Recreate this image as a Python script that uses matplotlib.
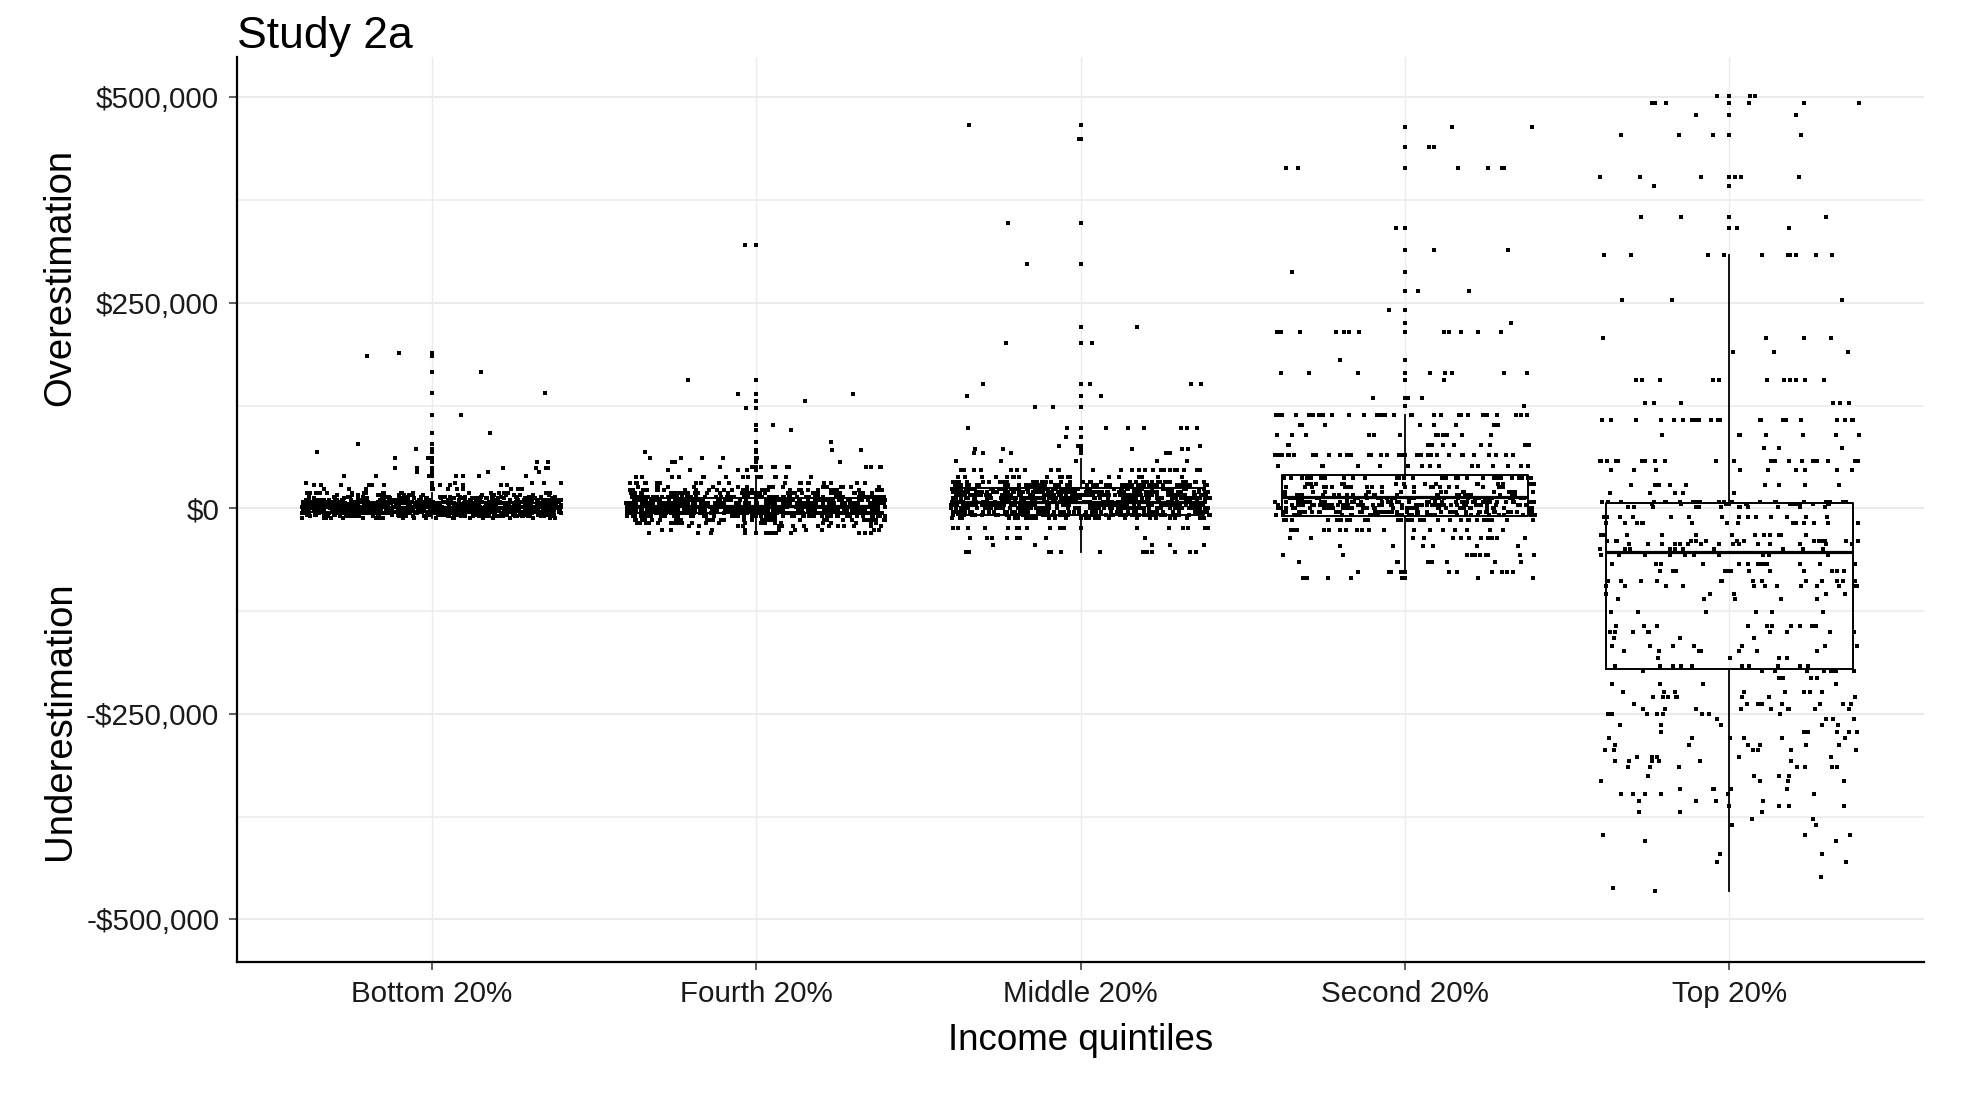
import numpy as np
import matplotlib
matplotlib.use('Agg')
import matplotlib.pyplot as plt
from matplotlib.ticker import FixedLocator, FuncFormatter

plt.rcParams['font.family'] = ['Liberation Sans', 'DejaVu Sans']

groups = ['Bottom 20%', 'Fourth 20%', 'Middle 20%', 'Second 20%', 'Top 20%']

# estimation error in $1,000 and how many answers sit at each level
bottom_vals = [-12, -10, -8, -6, -4, -2, 0, 2, 4, 6, 8, 10, 12, 14, 16,
               19, 23, 28, 31, 39, 44, 49, 56, 61, 69, 72, 78, 91, 113, 140, 166, 185, 189]
bottom_counts = [25, 45, 55, 70, 90, 100, 130, 110, 100, 90, 70, 55, 40, 30, 20,
                 20, 10, 12, 5, 7, 3, 6, 2, 2, 1, 1, 1, 1, 1, 1, 1, 1, 1]

fourth_vals = [-30, -26, -22, -18, -14, -10, -6, -2, 2, 6, 10, 14, 18, 22, 26,
               31, 38, 46, 50, 56, 61, 68, 71, 81, 95, 101, 122, 131, 139, 156, 320]
fourth_counts = [13, 10, 15, 25, 40, 60, 90, 110, 120, 110, 90, 70, 50, 35, 20,
                 20, 15, 4, 11, 3, 5, 1, 2, 1, 1, 1, 1, 1, 2, 1, 1]

middle_vals = [-53, -45, -36, -24, -12, -8, -4, 0, 4, 8, 12, 16, 20, 24, 28, 32,
               38, 46, 57, 67, 72, 76, 87, 98, 123, 137, 151, 201, 221, 297, 347, 449, 466]
middle_counts = [12, 5, 8, 18, 30, 50, 70, 85, 90, 95, 90, 85, 80, 70, 55, 40,
                 20, 25, 5, 5, 5, 4, 1, 8, 2, 2, 4, 2, 1, 1, 1, 1, 1]

second_vals = [-85, -77, -65, -57, -46, -36, -26, -14, -8, -4, 0, 4, 8, 12, 16, 20,
               26, 30, 37, 52, 65, 77, 89, 101, 113, 124, 134, 156, 165, 180, 215,
               225, 241, 264, 288, 314, 341, 414, 440, 464]
second_counts = [8, 12, 8, 10, 6, 12, 20, 35, 40, 45, 45, 50, 50, 45, 25, 20,
                 25, 15, 30, 15, 35, 10, 12, 8, 30, 1, 3, 1, 8, 1, 12,
                 1, 1, 2, 1, 2, 1, 7, 2, 2]

top_vals = [-465, -462, -448, -430, -420, -405, -398, -385, -378, -370, -362, -356,
            -348, -341, -332, -326, -315, -308, -302, -294, -288, -280, -272, -264,
            -256, -250, -244, -238, -230, -224, -214, -207, -198, -192, -182, -174,
            -168, -158, -150, -143, -126, -110, -104, -95, -88, -76, -68, -57, -50,
            -44, -40, -32, -18, -11, 2, 5, 8, 19, 28, 46, 58, 73, 89, 107, 128, 156,
            190, 207, 253, 308, 341, 354, 392, 403, 454, 478, 493, 501]
top_counts = [1, 1, 1, 2, 2, 2, 3, 2, 2, 3, 5, 4,
              6, 5, 4, 4, 7, 6, 5, 6, 6, 6, 6, 5,
              5, 8, 9, 8, 8, 8, 4, 4, 10, 10, 4, 7,
              7, 3, 10, 10, 6, 5, 5, 12, 13, 12, 13, 10, 10,
              15, 15, 12, 15, 15, 12, 13, 25, 5, 9, 9, 22, 3, 7, 21, 6, 11,
              3, 4, 3, 10, 2, 3, 1, 6, 4, 2, 6, 3]

# box statistics, $1,000
box_whislo = [-12, -30, -53, -77, -465]
box_q1 = [-4, -6, -8, -9.4, -195]
box_med = [1, 3, 8, 13.4, -53]
box_q3 = [6, 13, 25, 40.5, 7]
box_whishi = [19, 38, 60, 114, 308]

yticks = [-500000, -250000, 0, 250000, 500000]
yminor = [-375000, -125000, 125000, 375000]

group_vals = [bottom_vals, fourth_vals, middle_vals, second_vals, top_vals]
group_counts = [bottom_counts, fourth_counts, middle_counts, second_counts, top_counts]

fig = plt.figure(figsize=(19.72, 11.02), dpi=100)
ax = fig.add_axes([0.1202, 0.127, 0.8555, 0.8213])

dot = [(-0.7, -1), (0.7, -1), (0.7, 1), (-0.7, 1), (-0.7, -1)]
rng = np.random.default_rng(3)

stats = []
for i, (vals, counts) in enumerate(zip(group_vals, group_counts)):
    y = np.repeat(np.array(vals, dtype=float) * 1000, counts)
    lo, hi = box_whislo[i] * 1000, box_whishi[i] * 1000
    stats.append(dict(whislo=lo, q1=box_q1[i] * 1000, med=box_med[i] * 1000,
                      q3=box_q3[i] * 1000, whishi=hi,
                      fliers=y[(y < lo) | (y > hi)]))
    x = i + 1 + rng.uniform(-0.4, 0.4, len(y))
    ax.plot(x, y, ls='none', marker=dot, ms=3.2, mew=0, color='black',
            antialiased=False, zorder=3)

ax.bxp(stats, positions=range(1, 6), widths=0.76, showcaps=False,
       boxprops=dict(color='black', lw=1.4),
       whiskerprops=dict(color='black', lw=1.3),
       medianprops=dict(color='black', lw=2.3),
       flierprops=dict(marker=dot, ms=3.2, mew=0, mfc='black', ls='none',
                       antialiased=False),
       zorder=2)

ax.set_xlim(0.4, 5.6)
ax.set_ylim(-552000, 549000)
ax.set_xticks(range(1, 6))
ax.set_xticklabels(groups)
ax.set_yticks(yticks)
ax.yaxis.set_minor_locator(FixedLocator(yminor))


def dollars(v, pos):
    return f'-${abs(v):,.0f}' if v < 0 else f'${v:,.0f}'


ax.yaxis.set_major_formatter(FuncFormatter(dollars))

ax.grid(True, axis='y', which='major', color='#ebebeb', lw=1.5, zorder=0)
ax.grid(True, axis='y', which='minor', color='#ebebeb', lw=1.1, zorder=0)
ax.grid(True, axis='x', which='major', color='#ebebeb', lw=1.0, zorder=0)
ax.set_axisbelow(True)

for side in ['top', 'right']:
    ax.spines[side].set_visible(False)
for side in ['left', 'bottom']:
    ax.spines[side].set_color('black')
    ax.spines[side].set_linewidth(1.6)

ax.tick_params(which='major', length=5.8, width=1.1, color='#333333',
               labelsize=21.3, labelcolor='#1a1a1a', pad=7)
ax.tick_params(which='minor', length=0)

ax.set_xlabel('Income quintiles', fontsize=26.5, labelpad=11)
ax.text(-0.105, 0.756, 'Overestimation', transform=ax.transAxes, rotation=90,
        ha='center', va='center', fontsize=27.5)
ax.text(-0.105, 0.267, 'Underestimation', transform=ax.transAxes, rotation=90,
        ha='center', va='center', fontsize=27.5)

fig.text(237 / 1972, 1 - 48 / 1102, 'Study 2a', fontsize=32, va='baseline', ha='left')

fig.savefig('out.png', dpi=100)
